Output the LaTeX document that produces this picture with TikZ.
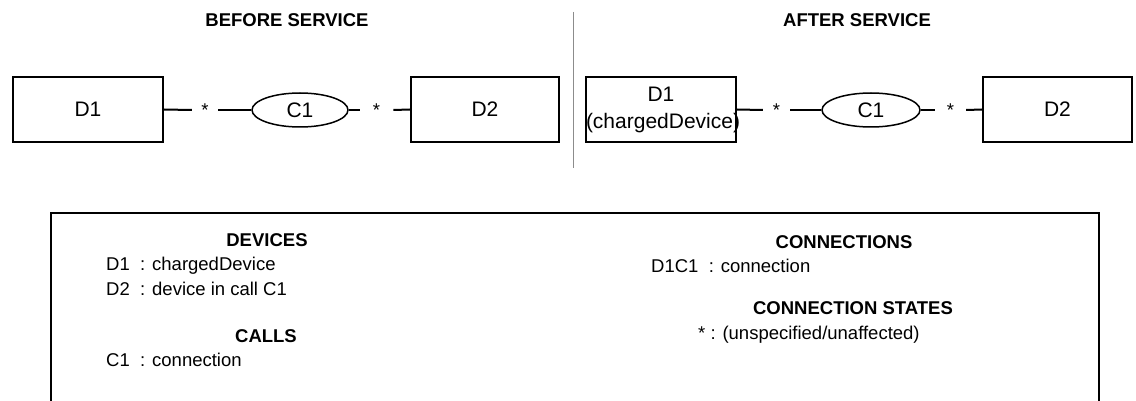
\documentclass[tikz,border=0pt]{standalone}
\usepackage{fontspec}
\setmainfont{Liberation Sans}
\usetikzlibrary{shapes.geometric}
\begin{document}
\begin{tikzpicture}[x=1pt,y=-1pt,
  dev/.style={draw, line width=2pt, minimum width=150pt, minimum height=65pt, inner sep=0pt,
    font=\fontsize{21}{27}\selectfont, align=center},
  call/.style={draw, ellipse, line width=1.5pt, minimum width=96pt, minimum height=34pt,
    inner sep=0pt, font=\fontsize{21}{25}\selectfont},
  astx/.style={inner ysep=0pt, font=\fontsize{18.5}{22}\selectfont},
  conn/.style={line width=2pt},
  ttl/.style={font=\bfseries\fontsize{18.5}{22}\selectfont, inner sep=0pt},
  txt/.style={font=\fontsize{18.5}{22}\selectfont, anchor=base west, inner sep=0pt},
  head/.style={font=\bfseries\fontsize{18.5}{22}\selectfont, anchor=base, inner sep=0pt},
  sep/.style={draw=black!45, line width=1pt},
  frame/.style={line width=2pt}]
\useasboundingbox (0,0) rectangle (1136,401);

% titles
\node[ttl] (tb) at (287,20) {BEFORE SERVICE};
\node[ttl] (ta) at (857,20) {AFTER SERVICE};
\draw[sep] (573,12) -- (573,168);

% before service
\node[dev] (bd1) at (88,109.5) {D1};
\node[call] (bc1) at (300,110) {C1};
\node[dev, minimum width=148pt] (bd2) at (485,109.5) {D2};
\node[astx, inner xsep=9.4pt] (bs1) at (205,110) {*};
\node[astx, inner xsep=13pt] (bs2) at (376.5,110) {*};
\draw[conn] (bd1.east) -- (bs1.west);
\draw[conn] (bs1.east) -- (bc1.west);
\draw[conn] (bc1.east) -- (bs2.west);
\draw[conn] (bs2.east) -- (bd2.west);

% after service
\node[dev, text width=150pt] (ad1) at (661,109.5) {D1\\(chargedDevice)};
\node[call, minimum width=98pt] (ac1) at (871,110) {C1};
\node[dev, minimum width=149pt] (ad2) at (1057.5,109.5) {D2};
\node[astx, inner xsep=9.9pt] (as1) at (776.5,110) {*};
\node[astx, inner xsep=11.9pt] (as2) at (950.5,110) {*};
\draw[conn] (ad1.east) -- (as1.west);
\draw[conn] (as1.east) -- (ac1.west);
\draw[conn] (ac1.east) -- (as2.west);
\draw[conn] (as2.east) -- (ad2.west);

% legend frame
\draw[frame] (51,403) -- (51,213) -- (1099,213) -- (1099,403);

\node[head] (hdev) at (267,247) {DEVICES};
\node[txt] (ld1) at (106,270) {D1\hspace{0.56em}: chargedDevice};
\node[txt] (ld2) at (106,295) {D2\hspace{0.56em}: device in call C1};
\node[head] (hcal) at (266,342) {CALLS};
\node[txt] (lc1) at (106,366) {C1\hspace{0.56em}: connection};

\node[head] (hcon) at (844,248) {CONNECTIONS};
\node[txt] (lcon) at (651,272) {D1C1\hspace{0.56em}: connection};
\node[head] (hst) at (853,314) {CONNECTION STATES};
\node[txt] (lst) at (698,339) {* : (unspecified/unaffected)};
\end{tikzpicture}
\end{document}
